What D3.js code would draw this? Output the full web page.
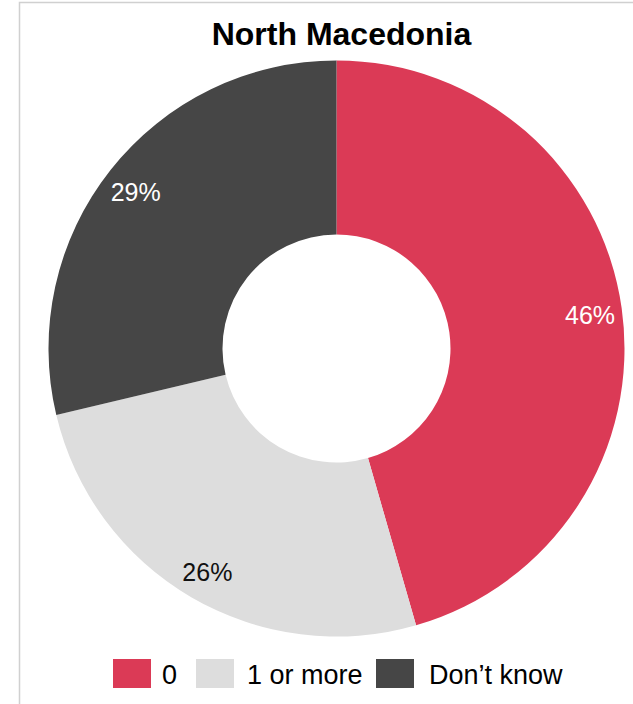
<!DOCTYPE html>
<html>
<head>
<meta charset="utf-8">
<script src="https://cdn.jsdelivr.net/npm/d3@7"></script>
<style>
  html, body { margin: 0; padding: 0; background: #fff; }
  svg { display: block; font-family: Arial, "Liberation Sans", sans-serif; }
</style>
</head>
<body>
<svg id="chart" width="633" height="704"></svg>
<script>
// Share of respondents by answer
const title = "North Macedonia";
const categories = ["0", "1 or more", "Don\u2019t know"];
const values = [46, 26, 29];
const colors = ["#DB3A56", "#DDDDDD", "#464646"];
const labelColors = ["#FFFFFF", "#111111", "#FFFFFF"];

const svg = d3.select("#chart");
const W = 633, H = 704;

// Outer frame
svg.append("rect")
  .attr("x", 19.5).attr("y", 2.5)
  .attr("width", W + 10).attr("height", H + 10)
  .attr("fill", "none")
  .attr("stroke", "#D0D0D0")
  .attr("stroke-width", 1.5);

// Title
svg.append("text")
  .attr("x", 341.5).attr("y", 45)
  .attr("text-anchor", "middle")
  .attr("font-size", 32)
  .attr("font-weight", "bold")
  .attr("fill", "#000")
  .text(title);

const cx = 336.5, cy = 348.5;
const outerR = 288, innerR = 114, labelR = 256;

const color = d3.scaleOrdinal().domain(categories).range(colors);
const pie = d3.pie().sort(null).value(d => d.value);
const data = categories.map((c, i) => ({ cat: c, value: values[i], lc: labelColors[i] }));
const arcs = pie(data);

const arc = d3.arc().innerRadius(innerR).outerRadius(outerR);
const labelArc = d3.arc().innerRadius(labelR).outerRadius(labelR);

const g = svg.append("g").attr("transform", `translate(${cx},${cy})`);

g.selectAll("path.slice")
  .data(arcs)
  .join("path")
  .attr("class", "slice")
  .attr("d", arc)
  .attr("fill", d => color(d.data.cat));

g.selectAll("text.pct")
  .data(arcs)
  .join("text")
  .attr("class", "pct")
  .attr("transform", d => {
    const [x, y] = labelArc.centroid(d);
    return `translate(${x},${y + 2})`;
  })
  .attr("text-anchor", "middle")
  .attr("dominant-baseline", "central")
  .attr("font-size", 25)
  .attr("fill", d => d.data.lc)
  .text(d => d.data.value + "%");

// Legend
const legendItems = [
  { x: 113, tx: 162 },
  { x: 196, tx: 247 },
  { x: 376, tx: 429 }
];
const legend = svg.append("g");
categories.forEach((c, i) => {
  legend.append("rect")
    .attr("x", legendItems[i].x).attr("y", 659)
    .attr("width", 38).attr("height", 29)
    .attr("fill", color(c));
  legend.append("text")
    .attr("x", legendItems[i].tx).attr("y", 675)
    .attr("dominant-baseline", "central")
    .attr("font-size", 27)
    .attr("fill", "#000")
    .text(c);
});
</script>
</body>
</html>
